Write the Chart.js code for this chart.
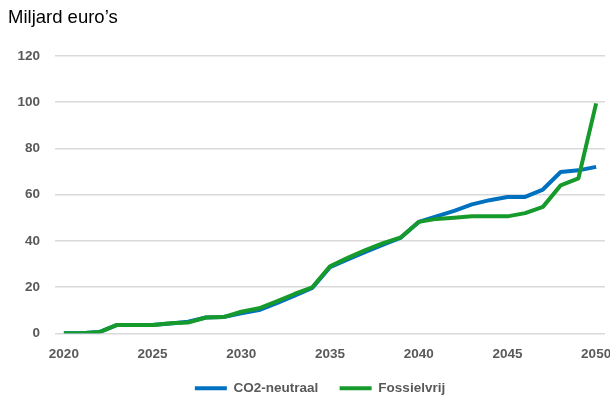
<!DOCTYPE html>
<html>
<head>
<meta charset="utf-8">
<script src="https://cdn.jsdelivr.net/npm/chart.js@4"></script>
<style>
  html, body { margin: 0; padding: 0; overflow: hidden; background: #ffffff; }
  #wrap { position: absolute; left: 0; top: 0; width: 610px; height: 405px; }
</style>
</head>
<body>
<div id="wrap"><canvas id="chart"></canvas></div>
<script>
// Jaren op de x-as
const years = [2020, 2021, 2022, 2023, 2024, 2025, 2026, 2027, 2028, 2029,
               2030, 2031, 2032, 2033, 2034, 2035, 2036, 2037, 2038, 2039,
               2040, 2041, 2042, 2043, 2044, 2045, 2046, 2047, 2048, 2049, 2050];

// Jaren die een label krijgen
const labelledYears = [2020, 2025, 2030, 2035, 2040, 2045, 2050];

// Cumulatieve kosten in miljard euro
const co2Neutraal = [0, 0, 0.5, 3.6, 3.6, 3.6, 4.2, 5.0, 6.8, 7.0,
                     8.6, 10.0, 13.0, 16.3, 19.6, 28.6, 32.0, 35.2, 38.3, 41.4,
                     48.2, 50.6, 53.0, 55.8, 57.6, 59.0, 59.0, 62.2, 69.8, 70.5, 72.0];

const fossielvrij = [0, 0, 0.5, 3.6, 3.6, 3.6, 4.3, 4.6, 6.8, 7.0,
                     9.3, 10.8, 13.8, 17.0, 19.9, 29.0, 32.6, 36.0, 39.0, 41.5,
                     48.2, 49.5, 50.0, 50.6, 50.6, 50.6, 52.0, 54.7, 64.0, 67.0, 99.5];

const grey = '#595959';
const tickFont = { family: 'Liberation Sans', size: 13.5, weight: 'bold' };

// Legenda iets naar links, onder het midden van de grafiek
const legendNudge = {
  id: 'legendNudge',
  afterLayout(chart) {
    const l = chart.legend;
    if (l) { l.left -= 10; l.right -= 10; }
  }
};

new Chart(document.getElementById('chart'), {
  type: 'line',
  data: {
    labels: years,
    datasets: [
      {
        label: 'CO2-neutraal',
        data: co2Neutraal,
        borderColor: '#0070C0',
        backgroundColor: '#0070C0',
        borderWidth: 4,
        pointRadius: 0,
        tension: 0,
        borderJoinStyle: 'round',
        order: 1
      },
      {
        label: 'Fossielvrij',
        data: fossielvrij,
        borderColor: '#179A2C',
        backgroundColor: '#179A2C',
        borderWidth: 4,
        pointRadius: 0,
        tension: 0,
        borderJoinStyle: 'round',
        order: 0
      }
    ]
  },
  plugins: [legendNudge],
  options: {
    responsive: true,
    maintainAspectRatio: false,
    animation: false,
    layout: { padding: { left: 8, right: 5, top: 0, bottom: 0 } },
    plugins: {
      title: {
        display: true,
        text: 'Miljard euro\u2019s',
        align: 'start',
        color: '#000000',
        font: { family: 'Liberation Sans', size: 18.5, weight: 'normal' },
        padding: { top: 7.2, bottom: 26.6 }
      },
      legend: {
        display: true,
        position: 'bottom',
        fullSize: false,
        labels: {
          usePointStyle: true,
          pointStyle: 'line',
          pointStyleWidth: 32,
          padding: 21.25,
          color: grey,
          font: { family: 'Liberation Sans', size: 13.5, weight: 'bold' },
          sort: (a, b) => a.datasetIndex - b.datasetIndex
        }
      },
      tooltip: { enabled: false }
    },
    scales: {
      x: {
        type: 'category',
        offset: true,
        grid: { display: false, drawTicks: false },
        border: { display: false },
        ticks: {
          autoSkip: false,
          maxRotation: 0,
          minRotation: 0,
          padding: 13,
          color: grey,
          font: tickFont,
          callback: function (value) {
            const y = Number(this.getLabelForValue(value));
            return labelledYears.includes(y) ? String(y) : '';
          }
        },
        afterFit: (scale) => {
          scale.height = 27;
          scale.paddingLeft = 0;
          scale.paddingRight = 0;
        }
      },
      y: {
        min: 0,
        max: 120,
        grid: { color: '#d9d9d9', lineWidth: 1.5, drawTicks: false },
        border: { display: false },
        ticks: {
          stepSize: 20,
          padding: 15,
          color: grey,
          font: tickFont
        },
        afterFit: (scale) => { scale.width = 47; }
      }
    }
  }
});
</script>
</body>
</html>
